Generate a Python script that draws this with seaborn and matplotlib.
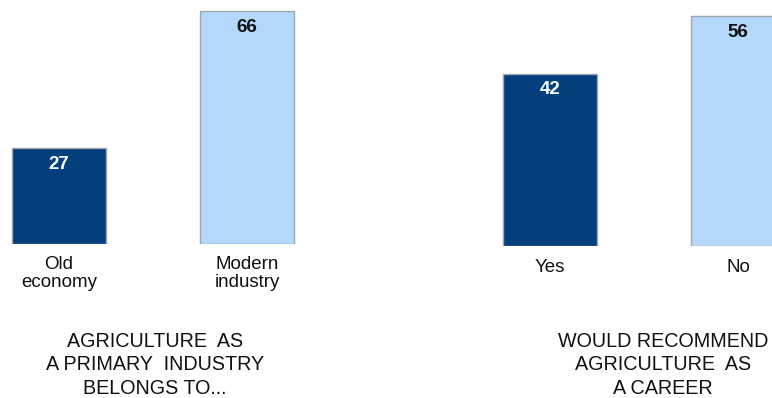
import matplotlib
matplotlib.use("Agg")
import matplotlib.pyplot as plt
import seaborn as sns
import pandas as pd

# Survey results (percent)
industry_labels = ["Old\neconomy", "Modern\nindustry"]
industry_values = [27, 66]
career_labels = ["Yes", "No"]
career_values = [42, 56]

industry_title = ["AGRICULTURE  AS", "A PRIMARY  INDUSTRY", "BELONGS TO..."]
career_title = ["WOULD RECOMMEND", "AGRICULTURE  AS", "A CAREER"]

DARK = "#023F7C"
LIGHT = "#B3D8FC"
EDGE = "#A3A7AC"

sns.set_theme(style="white")
plt.rcParams["font.family"] = ["Liberation Sans", "DejaVu Sans"]

W, H = 772, 398
fig = plt.figure(figsize=(W / 100, H / 100), dpi=100)


def add_panel(left_px, right_px, base_px, top_px, xlim, ymax,
              labels, values, value_colors):
    ax = fig.add_axes([left_px / W, (H - base_px) / H,
                       (right_px - left_px) / W, (base_px - top_px) / H])
    df = pd.DataFrame({"cat": labels, "val": values})
    sns.barplot(data=df, x="cat", y="val", hue="cat",
                palette=[DARK, LIGHT], saturation=1, width=0.495, legend=False,
                edgecolor=EDGE, linewidth=1.0, ax=ax)
    ax.set_xlim(*xlim)
    ax.set_ylim(0, ymax)
    ax.set_xlabel("")
    ax.set_ylabel("")
    ax.set_yticks([])
    ax.tick_params(axis="x", length=0, pad=9, labelsize=13.5, labelcolor="#111111")
    for t in ax.get_xticklabels():
        t.set_linespacing(1.1)
    for s in ax.spines.values():
        s.set_visible(False)
    for i, (v, c) in enumerate(zip(values, value_colors)):
        ax.annotate(f"{v}", xy=(i, v), xytext=(0, -5.5), textcoords="offset points",
                    ha="center", va="top", fontsize=13.5, fontweight="bold",
                    color=c)
    return ax


add_panel(0, 306, 243.5, 0, (-59 / 188, (306 - 59) / 188), 243.5 / 3.52,
          industry_labels, industry_values, ["white", "#111111"])
add_panel(460, 772, 246.3, 0, ((460 - 550) / 188, (772 - 550) / 188), 246.3 / 4.11,
          career_labels, career_values, ["white", "#111111"])


def add_title(cx, lines):
    for k, line in enumerate(lines):
        y_px = 347 + k * 23.5
        fig.text(cx / W, 1 - y_px / H, line, ha="center", va="baseline",
                 fontsize=14.2, color="#111111")


add_title(155, industry_title)
add_title(663, career_title)

fig.savefig("out.png", dpi=100, facecolor="white")
